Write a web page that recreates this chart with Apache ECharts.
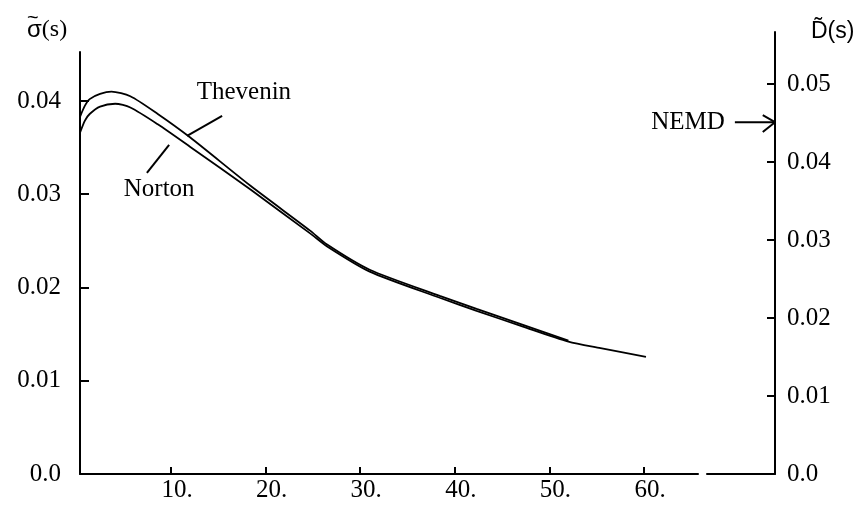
<!DOCTYPE html>
<html>
<head>
<meta charset="utf-8">
<script src="https://cdn.jsdelivr.net/npm/echarts@6/dist/echarts.min.js"></script>
<style>
  html, body { margin: 0; padding: 0; background: #fff; }
  #main { width: 862px; height: 506px; }
</style>
</head>
<body>
<div id="main"></div>
<script>
// s values and sigma(s)
const theveninS = [0.38, 0.9, 1.4, 2.5, 3.7, 5.7, 8.6, 12, 18.4, 24.7, 26.5, 31, 38.4, 42.3, 47.2, 52];
const thevenin = [0.0383, 0.0395, 0.0402, 0.04075, 0.0410, 0.0405, 0.0386, 0.0361, 0.0309, 0.0261, 0.0246, 0.0219, 0.0191, 0.0177, 0.0160, 0.0143];
const nortonS = [0.38, 0.9, 1.4, 2.5, 4.1, 5.7, 8.6, 12, 18.4, 24.7, 26.5, 31, 38.4, 42.3, 47.2, 52, 55.4, 60.2];
const norton = [0.0366, 0.0379, 0.0386, 0.0394, 0.0397, 0.0393, 0.0375, 0.0351, 0.0305, 0.0258, 0.0244, 0.0217, 0.0189, 0.0175, 0.0158, 0.0142, 0.0135, 0.01255];

const xTicks = [10, 20, 30, 40, 50, 60];
const leftTicks = [0, 0.01, 0.02, 0.03, 0.04];
const rightTicks = [0, 0.01, 0.02, 0.03, 0.04, 0.05];
const nemdValue = 0.0451;

// annotation labels and their pointer lines (data coordinates)
const curveLabels = [
  { name: "Thevenin", value: [17.7, 0.0409] },
  { name: "Norton", value: [8.75, 0.0305] },
];
const theveninPointer = [[15.4, 0.0384], [11.7, 0.03625]];
const nortonPointer = [[9.8, 0.0353], [7.45, 0.0323]];

const zip = (xs, ys) => xs.map((x, i) => [x, ys[i]]);

const chart = echarts.init(document.getElementById("main"));

const font = "Liberation Serif";
const black = "#000";
const axisLine = { show: true, onZero: false, lineStyle: { color: black, width: 2 } };
const curveStyle = { color: black, width: 1.8 };
const textLabel = {
  show: true,
  formatter: "{b}",
  fontFamily: font,
  fontSize: 25,
  color: black,
  opacity: 1,
};

const options = {
  backgroundColor: "#fff",
  animation: false,
  grid: [
    { left: 80, right: 164, top: 52, bottom: 32, outerBoundsMode: "none" },
    { left: 707, right: 87, top: 32, bottom: 32, outerBoundsMode: "none" },
  ],
  xAxis: [
    {
      type: "value",
      gridIndex: 0,
      min: 0.38,
      max: 65.7,
      axisLine,
      axisTick: { show: true, inside: true, length: 7, customValues: xTicks, lineStyle: { color: black, width: 2 } },
      axisLabel: {
        customValues: xTicks,
        formatter: (v) => v + ".",
        fontFamily: font,
        fontSize: 25,
        color: black,
        margin: 4,
        padding: [0, 0, 0, 12],
      },
      splitLine: { show: false },
    },
    {
      type: "value",
      gridIndex: 1,
      min: 0,
      max: 1,
      axisLine,
      axisTick: { show: false },
      axisLabel: { show: false },
      splitLine: { show: false },
    },
  ],
  yAxis: [
    {
      type: "value",
      gridIndex: 0,
      min: 0,
      max: 0.04525,
      axisLine,
      axisTick: { show: true, inside: true, length: 9, customValues: leftTicks.slice(1), lineStyle: { color: black, width: 2 } },
      axisLabel: {
        customValues: leftTicks,
        formatter: (v) => (v === 0 ? "0.0" : v.toFixed(2)),
        fontFamily: font,
        fontSize: 25,
        color: black,
        margin: 19,
      },
      splitLine: { show: false },
    },
    {
      type: "value",
      gridIndex: 1,
      position: "right",
      min: 0,
      max: 0.05667,
      axisLine,
      axisTick: { show: true, inside: true, length: 8, customValues: rightTicks.slice(1), lineStyle: { color: black, width: 2 } },
      axisLabel: {
        customValues: rightTicks,
        formatter: (v) => (v === 0 ? "0.0" : v.toFixed(2)),
        fontFamily: font,
        fontSize: 25,
        color: black,
        margin: 12,
      },
      splitLine: { show: false },
    },
  ],
  graphic: [
    {
      type: "text",
      left: 27,
      top: 18,
      style: {
        text: "{a|σ}{b|(s)}",
        rich: {
          a: { font: "24px 'Liberation Sans'", fill: black },
          b: { font: "24px 'Liberation Serif'", fill: black },
        },
      },
    },
    {
      type: "text",
      left: 27,
      top: 8,
      style: { text: "~", font: "20px 'Liberation Sans'", fill: black },
    },
    {
      type: "text",
      left: 811,
      top: 20,
      style: { text: "D\u0303(s)", font: "23px 'Liberation Sans'", fill: black },
    },
  ],
  series: [
    {
      name: "Thevenin",
      type: "line",
      xAxisIndex: 0,
      yAxisIndex: 0,
      data: zip(theveninS, thevenin),
      smooth: 0.25,
      showSymbol: false,
      lineStyle: curveStyle,
    },
    {
      name: "Norton",
      type: "line",
      xAxisIndex: 0,
      yAxisIndex: 0,
      data: zip(nortonS, norton),
      smooth: 0.25,
      showSymbol: false,
      lineStyle: curveStyle,
    },
    {
      type: "line",
      xAxisIndex: 0,
      yAxisIndex: 0,
      data: theveninPointer,
      showSymbol: false,
      lineStyle: { color: black, width: 2 },
    },
    {
      type: "line",
      xAxisIndex: 0,
      yAxisIndex: 0,
      data: nortonPointer,
      showSymbol: false,
      lineStyle: { color: black, width: 2 },
    },
    {
      type: "scatter",
      xAxisIndex: 0,
      yAxisIndex: 0,
      symbolSize: 0,
      itemStyle: { opacity: 1 },
      data: curveLabels,
      label: { ...textLabel, position: "inside" },
    },
    // NEMD arrow on the right axis
    {
      type: "line",
      xAxisIndex: 1,
      yAxisIndex: 1,
      data: [[0.41, nemdValue], [1, nemdValue]],
      showSymbol: false,
      lineStyle: { color: black, width: 2 },
    },
    {
      type: "line",
      xAxisIndex: 1,
      yAxisIndex: 1,
      data: [[0.82, 0.0460], [1, nemdValue], [0.82, 0.04385]],
      showSymbol: false,
      lineStyle: { color: black, width: 2 },
    },
    {
      type: "scatter",
      xAxisIndex: 1,
      yAxisIndex: 1,
      symbolSize: 0,
      itemStyle: { opacity: 1 },
      data: [{ name: "NEMD", value: [0.41, nemdValue] }],
      label: { ...textLabel, position: "left", distance: 10 },
    },
  ],
};

chart.setOption(options);
</script>
</body>
</html>
